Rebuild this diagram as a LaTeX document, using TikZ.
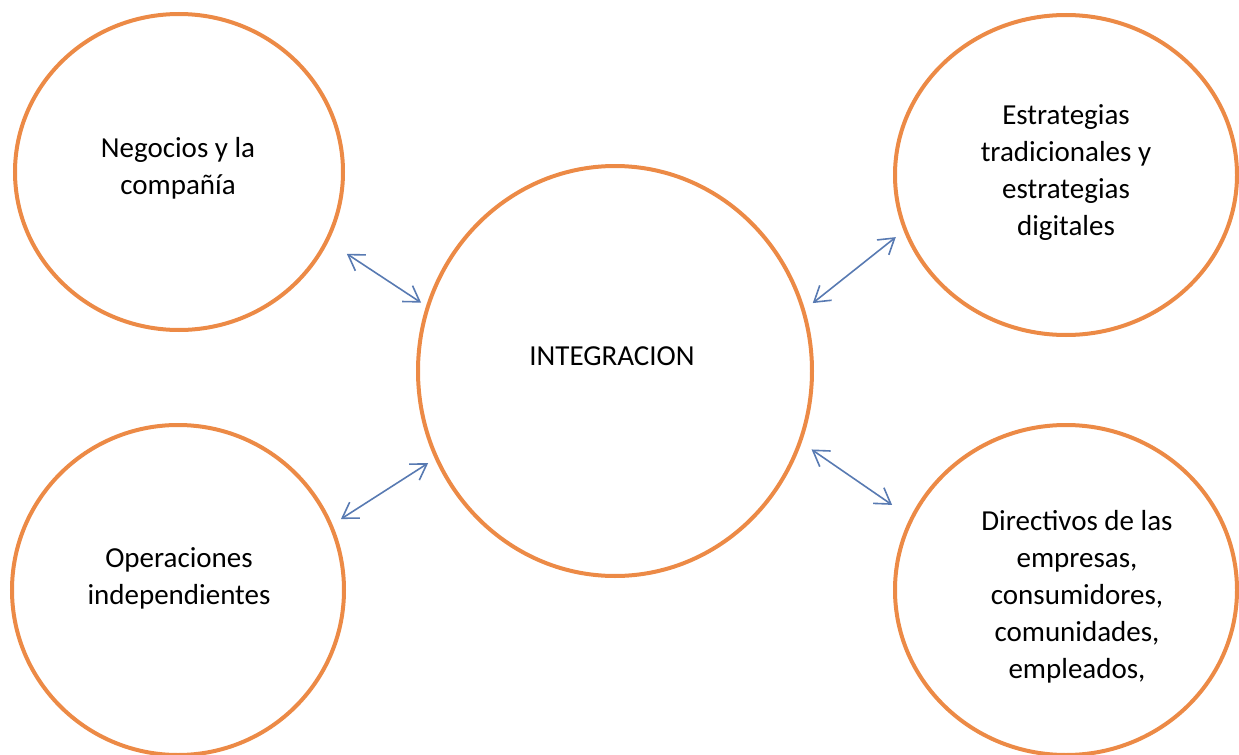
\documentclass[tikz,border=0pt]{standalone}
\usepackage{fontspec}
\setmainfont{Carlito}
\usetikzlibrary{arrows.meta,shapes.geometric}
\definecolor{laranja}{RGB}{236,138,70}
\definecolor{azulseta}{RGB}{88,122,178}

\begin{document}
\begin{tikzpicture}[x=0.5pt,y=-0.5pt,
    bola/.style={ellipse,draw=laranja,line width=2pt,inner sep=0pt},
    texto/.style={align=center,font=\fontsize{14.5}{18.5}\selectfont},
    ponta/.style={{Straight Barb[length=7.5pt,width=9.5pt]}-{Straight Barb[length=7.5pt,width=9.5pt]},draw=azulseta,line width=0.8pt}]
    \useasboundingbox (0,0) rectangle (1239,755);

    % circulos
    \node[bola,minimum width=197pt,minimum height=205pt] (hub) at (615,371) {};
    \node[bola,minimum width=164pt,minimum height=158pt] (neg) at (179,172) {};
    \node[bola,minimum width=166pt,minimum height=165pt] (ope) at (178,590) {};
    \node[bola,minimum width=171pt,minimum height=160pt] (est) at (1066,175) {};
    \node[bola,minimum width=171pt,minimum height=165pt] (dir) at (1066,590) {};

    % textos
    \node[texto] (thub) at (612,356) {INTEGRACION};
    \node[texto] (tneg) at (178,168) {Negocios y la\\compañía};
    \node[texto] (tope) at (179,578) {Operaciones\\independientes};
    \node[texto] (test) at (1066,173) {Estrategias\\tradicionales y\\estrategias\\digitales};
    \node[texto] (tdir) at (1077,597) {Directivos de las\\empresas,\\consumidores,\\comunidades,\\empleados,};

    % setas duplas
    \draw[ponta,shorten <=11pt,shorten >=3pt] (neg.-25) -- (hub.161);
    \draw[ponta,shorten <=5pt,shorten >=4pt] (ope.23) -- (hub.206);
    \draw[ponta,shorten <=5pt,shorten >=5pt] (hub.18) -- (est.199);
    \draw[ponta,shorten <=6pt,shorten >=11pt] (hub.-21) -- (dir.155);
\end{tikzpicture}
\end{document}
